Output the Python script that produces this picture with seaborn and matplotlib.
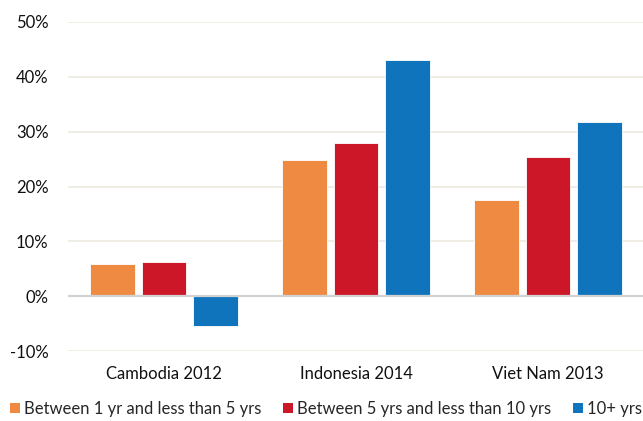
import matplotlib
matplotlib.use("Agg")
import matplotlib.pyplot as plt
import seaborn as sns
import pandas as pd
from matplotlib.patches import Patch
from matplotlib.ticker import FuncFormatter

countries = ["Cambodia 2012", "Indonesia 2014", "Viet Nam 2013"]
tenure_groups = [
    "Between 1 yr and less than 5 yrs",
    "Between 5 yrs and less than 10 yrs",
    "10+ yrs",
]
short_tenure = [5.8, 24.8, 17.6]
mid_tenure = [6.2, 28.0, 25.4]
long_tenure = [-5.5, 43.0, 31.7]
colors = ["#EF8A42", "#CC1728", "#1074BD"]
yticks = [-10, 0, 10, 20, 30, 40, 50]

rows = []
for series, group in zip([short_tenure, mid_tenure, long_tenure], tenure_groups):
    for c, v in zip(countries, series):
        rows.append({"country": c, "group": group, "value": v})
df = pd.DataFrame(rows)

sns.set_theme(style="white")
plt.rcParams["font.family"] = ["Lato", "DejaVu Sans"]

fig = plt.figure(figsize=(6.43, 4.21), dpi=100)
ax = fig.add_axes([68 / 643, 1 - 351 / 421, 576 / 643, (351 - 22) / 421])

sns.barplot(
    data=df, x="country", y="value", hue="group",
    order=countries, hue_order=tenure_groups, palette=colors,
    width=0.805, gap=0.13, saturation=1, ax=ax, legend=False,
    edgecolor="white", linewidth=0.6,
)

ax.set_xlim(-0.5, 2.5)
ax.set_ylim(-10, 50)
ax.set_yticks(yticks)
ax.yaxis.set_major_formatter(FuncFormatter(lambda v, p: f"{int(v)}%"))
ax.set_xlabel("")
ax.set_ylabel("")
for y in yticks:
    if y == 0:
        continue
    ax.axhline(y, color="#EEEAE0", lw=1.2, zorder=0)
ax.axhline(0, color="#D2D2D2", lw=1.6, zorder=3)
for s in ax.spines.values():
    s.set_visible(False)
ax.tick_params(axis="both", length=0, labelsize=12, colors="#111111")
ax.tick_params(axis="y", pad=14)
ax.tick_params(axis="x", pad=11)

handles = [Patch(facecolor=c, edgecolor="none") for c in colors]
fig.legend(
    handles, tenure_groups, loc="lower left", bbox_to_anchor=(0.0, -0.014),
    ncol=3, frameon=False, fontsize=12, handlelength=0.6, handleheight=0.6,
    handletextpad=0.25, columnspacing=1.3, borderaxespad=0.2,
)

fig.savefig("out.png", dpi=100)
